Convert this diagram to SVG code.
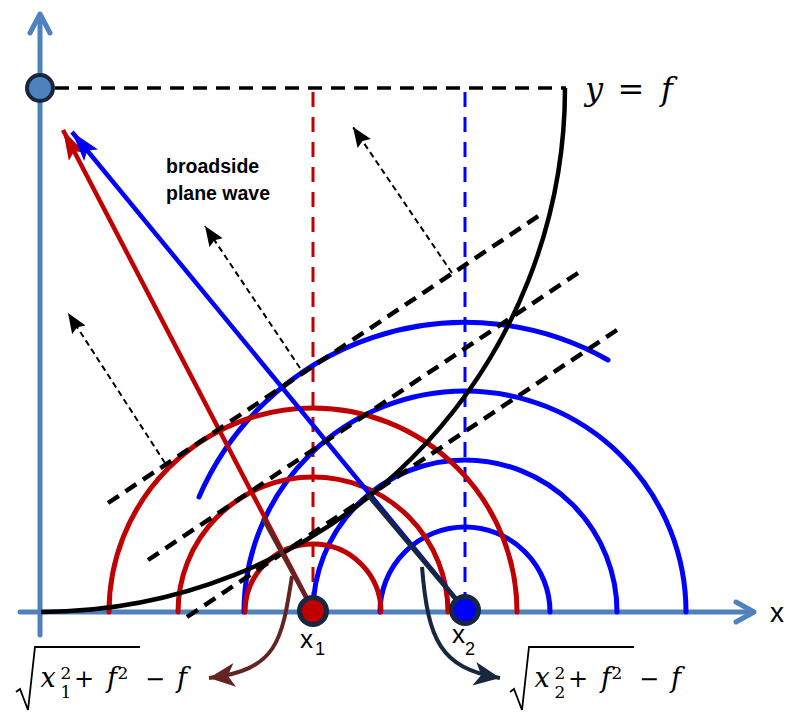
<svg xmlns="http://www.w3.org/2000/svg" width="798" height="715" viewBox="0 0 798 715">
<style>
.axis{stroke:#4f81bd;stroke-width:5;fill:none;stroke-linecap:round;stroke-linejoin:round}
.rarc{stroke:#c00000;stroke-width:5;fill:none;stroke-linecap:round}
.barc{stroke:#0000ff;stroke-width:5;fill:none;stroke-linecap:round}
.wave{stroke:#000;stroke-width:4.5;fill:none;stroke-dasharray:13 8}
.dir{stroke:#000;stroke-width:2;fill:none;stroke-dasharray:6 4}
.math{font-family:"DejaVu Serif","Liberation Serif",serif;fill:#000}
.it{font-style:italic}
.lbl{font-family:"Liberation Sans",Arial,sans-serif;fill:#000}
</style>
<defs>
<marker id="hRed" markerUnits="userSpaceOnUse" markerWidth="32" markerHeight="22" refX="30" refY="10" orient="auto" viewBox="0 0 32 22"><path d="M0,1 L30,10 L0,19 L6,10 Z" fill="#c00000"/></marker>
<marker id="hBlue" markerUnits="userSpaceOnUse" markerWidth="32" markerHeight="22" refX="30" refY="10" orient="auto" viewBox="0 0 32 22"><path d="M0,1 L30,10 L0,19 L6,10 Z" fill="#0000ff"/></marker>
<marker id="hBlack" markerUnits="userSpaceOnUse" markerWidth="22" markerHeight="18" refX="20" refY="8" orient="auto" viewBox="0 0 22 18"><path d="M0,0 L20,8 L0,16 L3,8 Z" fill="#000"/></marker>
<marker id="hBrown" markerUnits="userSpaceOnUse" markerWidth="28" markerHeight="28" refX="26" refY="13" orient="auto" viewBox="0 0 28 28"><path d="M0,1 L26,13 L0,25 L7,13 Z" fill="#632523"/></marker>
<marker id="hNavy" markerUnits="userSpaceOnUse" markerWidth="28" markerHeight="28" refX="26" refY="13" orient="auto" viewBox="0 0 28 28"><path d="M0,1 L26,13 L0,25 L7,13 Z" fill="#17273f"/></marker>
</defs>

<g id="axes">
<path class="axis" d="M40,635 L40,16"/>
<path class="axis" d="M30,33 L40,14 L50,33"/>
<path class="axis" d="M20,612 L752,612"/>
<path class="axis" d="M736,602 L754,612 L736,622"/>
</g>

<g id="guides">
<path d="M55,88 L566,88" stroke="#000" stroke-width="3.5" stroke-dasharray="14 9" fill="none"/>
<path d="M313,92 L313,600" stroke="#c00000" stroke-width="3" stroke-dasharray="15 10" fill="none"/>
<path d="M465,92 L465,596" stroke="#0000ff" stroke-width="3" stroke-dasharray="15 10" fill="none"/>
</g>

<g id="wavefronts-x2">
<path class="barc" d="M380,612 A85,85 0 0 1 550,612"/>
<path class="barc" d="M313,612 A152,152 0 0 1 617,612"/>
<path class="barc" d="M244,612 A221,221 0 0 1 686,612"/>
<path class="barc" d="M199,497 A290,290 0 0 1 608,360"/>
</g>

<g id="wavefronts-x1">
<path class="rarc" d="M245,612 A68,68 0 0 1 381,612"/>
<path class="rarc" d="M178,612 A135,135 0 0 1 448,612"/>
<path class="rarc" d="M109,612 A204,204 0 0 1 517,612"/>
</g>

<g id="connectors">
<path d="M313,610 L63,130" stroke="#c00000" stroke-width="4.5" fill="none" marker-end="url(#hRed)"/>
<path d="M465,610 L72,132" stroke="#0000ff" stroke-width="4.5" fill="none" marker-end="url(#hBlue)"/>
<path d="M41,612 A524,524 0 0 0 565,88" stroke="#000" stroke-width="4.5" fill="none"/>
<path class="wave" d="M108,503 L540,215"/>
<path class="wave" d="M148,560 L578,273"/>
<path class="wave" d="M187,617 L617,330"/>
<path class="dir" d="M165,463 L68,313" marker-end="url(#hBlack)"/>
<path class="dir" d="M300,368 L205,226" marker-end="url(#hBlack)"/>
<path class="dir" d="M452,273 L353,127" marker-end="url(#hBlack)"/>
<path d="M313,610 L263,518" stroke="#632523" stroke-width="4.5" fill="none"/>
<path d="M465,610 L368,495" stroke="#17273f" stroke-width="4.5" fill="none"/>
<path d="M292,576 C282,640 278,670 209,678" stroke="#632523" stroke-width="4" fill="none" marker-end="url(#hBrown)"/>
<path d="M422,567 C428,640 440,668 500,678" stroke="#17273f" stroke-width="4" fill="none" marker-end="url(#hNavy)"/>
</g>

<g id="focus">
<circle cx="40" cy="88" r="13" fill="#4f81bd" stroke="#17273f" stroke-width="4"/>
</g>
<g id="x1">
<circle cx="313" cy="611" r="13.5" fill="#c00000" stroke="#17273f" stroke-width="5"/>
<text class="lbl" x="300" y="648" font-size="26">x</text>
<text class="lbl" x="315" y="655" font-size="18">1</text>
</g>
<g id="x2">
<circle cx="465" cy="610" r="13.5" fill="#0000ff" stroke="#17273f" stroke-width="5"/>
<text class="lbl" x="452" y="643" font-size="26">x</text>
<text class="lbl" x="465" y="655" font-size="18">2</text>
</g>

<g id="x-label">
<text class="lbl" x="777" y="622" font-size="28" text-anchor="middle">x</text>
</g>

<g id="yf-label">
<text class="math it" x="594" y="100" font-size="32" text-anchor="middle">y</text>
<text class="math" x="631" y="100" font-size="32" text-anchor="middle">=</text>
<text class="math it" x="667" y="100" font-size="32" text-anchor="middle">f</text>
</g>

<g id="broadside-label">
<text class="lbl" x="166" y="173" font-size="19.5" font-weight="bold">broadside</text>
<text class="lbl" x="166" y="200" font-size="19.5" font-weight="bold">plane wave</text>
</g>

<g id="formula1">
<path d="M16,692 L20,689 L28,710 L35,647 L140,647" stroke="#000" stroke-width="1.8" fill="none" stroke-linejoin="miter"/>
<text class="math it" x="48" y="687" font-size="27" text-anchor="middle">x</text>
<text class="math" x="66" y="679" font-size="17" text-anchor="middle">2</text>
<text class="math" x="66" y="698" font-size="17" text-anchor="middle">1</text>
<text class="math" x="84" y="687" font-size="24" text-anchor="middle">+</text>
<text class="math it" x="112" y="687" font-size="27" text-anchor="middle">f</text>
<text class="math" x="123" y="679" font-size="17" text-anchor="middle">2</text>
<text class="math" x="155" y="687" font-size="24" text-anchor="middle">−</text>
<text class="math it" x="182" y="687" font-size="27" text-anchor="middle">f</text>
</g>

<g id="formula2">
<path d="M510,692 L514,689 L522,710 L529,647 L634,647" stroke="#000" stroke-width="1.8" fill="none" stroke-linejoin="miter"/>
<text class="math it" x="542" y="687" font-size="27" text-anchor="middle">x</text>
<text class="math" x="560" y="679" font-size="17" text-anchor="middle">2</text>
<text class="math" x="560" y="698" font-size="17" text-anchor="middle">2</text>
<text class="math" x="578" y="687" font-size="24" text-anchor="middle">+</text>
<text class="math it" x="606" y="687" font-size="27" text-anchor="middle">f</text>
<text class="math" x="617" y="679" font-size="17" text-anchor="middle">2</text>
<text class="math" x="649" y="687" font-size="24" text-anchor="middle">−</text>
<text class="math it" x="676" y="687" font-size="27" text-anchor="middle">f</text>
</g>
</svg>
